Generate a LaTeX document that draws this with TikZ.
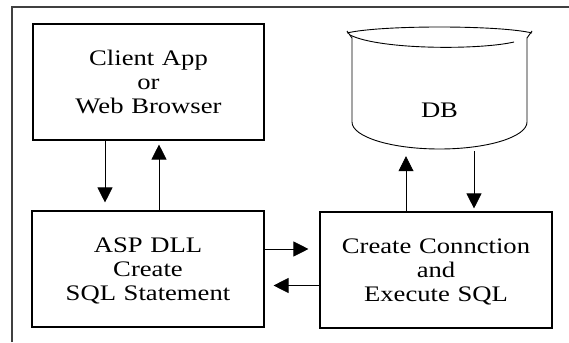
\documentclass[tikz,border=0pt]{standalone}
\usepackage{fontspec}
\setmainfont[FakeStretch=1.2,WordSpace=1.15]{Liberation Serif}
\usetikzlibrary{arrows.meta}
\begin{document}
\begin{tikzpicture}[x=1pt,y=-1pt,
  lbl/.style={font=\fontsize{22.2}{23.8}\selectfont},
  box/.style={draw=black,line width=1.1pt,rectangle,align=center,lbl,
    inner sep=0pt,text depth=0pt,minimum width=232pt,minimum height=116pt},
  arr/.style={line width=0.8pt,-{Triangle[length=15pt,width=15pt]}},
  frame/.style={draw=black!75,line width=1.4pt},
  cyl/.style={draw=black,line width=0.9pt}]
\useasboundingbox (0,0) rectangle (569,342);

% outer frame (top and left edges)
\draw[frame] (12,342) -- (12,7) -- (569,7);

% boxes
\node[box,minimum width=231pt] (client) at (148.5,82)
  {Client App\\or\\Web Browser};
\node[box] (asp) at (148,269)
  {ASP DLL\\Create\\SQL Statement};
\node[box] (exec) at (436,270)
  {Create Connction\\and\\Execute SQL};

% database cylinder
\node[minimum width=175pt,minimum height=111pt,inner sep=0pt] (db) at (439.5,93.5) {};
\node[lbl,inner sep=0pt] (dblabel) at (439.5,110.5) {DB};
\draw[cyl] (347,33) .. controls (380,25) and (499,25) .. (532,33);
\draw[cyl] (350,35) .. controls (380,50) and (480,50) .. (514,42);
\draw[cyl] (347,31) -- (352,38);
\draw[cyl] (532,31) -- (527,38);
\draw[cyl] (352,38) -- (352,122)
  .. controls (352,136.9) and (391.2,149) .. (439.5,149)
  .. controls (487.8,149) and (527,136.9) .. (527,122) -- (527,38);

% connectors
\draw[arr,shorten >=8pt] ([xshift=-43.5pt]client.south) -- ([xshift=-43pt]asp.north);
\draw[arr,shorten >=4pt] ([xshift=11pt]asp.north) -- ([xshift=10.5pt]client.south);
\draw[arr,shorten >=11pt] ([yshift=20pt]asp.east) -- ([yshift=21pt]exec.west);
\draw[arr,shorten >=9pt] ([yshift=-15.5pt]exec.west) -- ([yshift=-16.5pt]asp.east);
\draw[arr,shorten >=7pt] ([xshift=-30pt]exec.north) -- ([xshift=-33.5pt]db.south);
\draw[arr,shorten >=3pt,shorten <=2pt] ([xshift=34.5pt]db.south) -- ([xshift=38pt]exec.north);
\end{tikzpicture}
\end{document}
